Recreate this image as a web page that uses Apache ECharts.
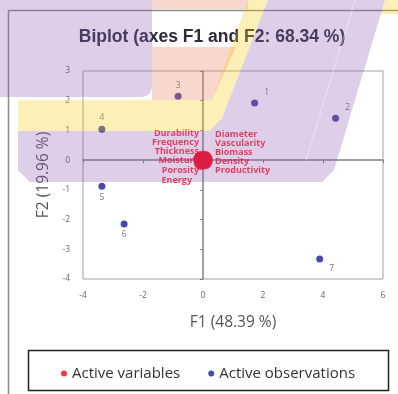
<!DOCTYPE html>
<html><head><meta charset="utf-8">
<script src="https://cdn.jsdelivr.net/npm/echarts@6/dist/echarts.min.js"></script>
<style>html,body{margin:0;padding:0;background:#fff}#c{width:398px;height:394px}</style>
</head><body><div id="c"></div>
<script>
// ---- data ----
const xTicks = [-4, -2, 0, 2, 4, 6];
const yTicks = [-4, -3, -2, -1, 0, 1, 2, 3];
const obsNames = ['1', '2', '3', '4', '5', '6', '7'];
const obsF1 = [1.72, 4.42, -0.83, -3.37, -3.37, -2.63, 3.89];
const obsF2 = [1.92, 1.41, 2.15, 1.04, -0.88, -2.15, -3.33];
const varNames = ['Durability', 'Frequency', 'Thickness', 'Moisture', 'Porosity', 'Energy',
                  'Diameter', 'Vascularity', 'Biomass', 'Density', 'Productivity'];
const varF1 = [-0.05, -0.08, -0.10, -0.06, -0.04, -0.07, 0.06, 0.08, 0.10, 0.05, 0.07];
const varF2 = [0.08, 0.05, 0.02, -0.03, -0.06, -0.10, 0.08, 0.04, 0.00, -0.04, -0.08];

// ---- label layout (style only) ----
const obsLabelOffset = [[12,-11],[12,-11],[0,-11],[0,-12],[0,11],[0,11],[12,9]];
const varLabelSide = ['right','right','right','right','right','right','left','left','left','left','left'];
const varLabelAnchor = [[199,133],[199,142],[199,151],[199,160],[199,170],[192,180],
                        [215,134],[215,143],[215,152],[215,161],[215,170]];

const chart = echarts.init(document.getElementById('c'));
const FONT = "'Open Sans', 'Liberation Sans', sans-serif";
const purple = 'rgba(145,92,178,0.3)';
const yellow = 'rgba(245,205,22,0.3)';
const pink = 'rgba(231,122,88,0.3)';

function buildVarData(offsets) {
  return varNames.map((n, i) => ({
    name: n, value: [varF1[i], varF2[i]],
    label: { show: true, position: 'inside', align: varLabelSide[i], verticalAlign: 'middle',
             formatter: '{b}', offset: offsets ? offsets[i] : [0, 0] }
  }));
}
const obsData = obsNames.map((n, i) => ({
  name: n, value: [obsF1[i], obsF2[i]],
  label: { show: true, position: 'inside', formatter: '{b}', offset: obsLabelOffset[i] }
}));

const option = {
  animation: false,
  backgroundColor: '#fff',
  title: {
    text: 'Biplot (axes F1 and F2: 68.34 %)', left: 207, textAlign: 'center', top: 23,
    textStyle: { fontFamily: "'Liberation Sans', Arial, sans-serif", fontSize: 17.5, fontWeight: 'bold', color: '#2b2b3b' }
  },
  legend: {
    top: 361, left: 56, itemGap: 28, icon: 'circle', itemWidth: 6, itemHeight: 6,
    textStyle: { fontFamily: FONT, fontSize: 15, color: '#333' },
    data: ['Active variables', 'Active observations']
  },
  grid: { left: 83, right: 15, top: 71, bottom: 115, show: true, borderColor: '#a0a0a0', borderWidth: 1 },
  xAxis: [
    { type: 'value', min: -4, max: 6, interval: 2,
      axisLine: { show: false }, axisTick: { show: false }, splitLine: { show: false },
      axisLabel: { fontSize: 8.5, color: '#666', margin: 12, fontFamily: FONT },
      name: 'F1 (48.39 %)', nameLocation: 'middle', nameGap: 36,
      nameTextStyle: { fontFamily: FONT, fontSize: 15.5, color: '#555' } },
    { type: 'value', min: -4, max: 6, interval: 2, position: 'bottom',
      axisLine: { show: true, onZero: true, onZeroAxisIndex: 0, lineStyle: { color: '#808080', width: 1.5 } },
      axisTick: { show: true, length: 3, lineStyle: { color: '#808080' } },
      axisLabel: { show: false }, splitLine: { show: false } }
  ],
  yAxis: [
    { type: 'value', min: -4, max: 3, interval: 1,
      axisLine: { show: false }, axisTick: { show: false }, splitLine: { show: false },
      axisLabel: { fontSize: 8.5, color: '#666', margin: 13, fontFamily: FONT },
      name: 'F2 (19.96 %)', nameLocation: 'middle', nameGap: 30,
      nameTextStyle: { fontFamily: FONT, fontSize: 15.5, color: '#555' } },
    { type: 'value', min: -4, max: 3, interval: 1, position: 'left',
      axisLine: { show: true, onZero: true, onZeroAxisIndex: 0, lineStyle: { color: '#808080', width: 1.5 } },
      axisTick: { show: true, length: 3, lineStyle: { color: '#808080' } },
      axisLabel: { show: false }, splitLine: { show: false } }
  ],
  series: [
    { name: 'Active variables', type: 'scatter', xAxisIndex: 0, yAxisIndex: 0,
      symbolSize: 14, itemStyle: { color: '#ff0012' }, z: 4,
      label: { color: '#ff0012', fontSize: 9, fontFamily: FONT, fontWeight: 'bold' },
      data: buildVarData(null) },
    { name: 'Active observations', type: 'scatter', xAxisIndex: 0, yAxisIndex: 0,
      symbolSize: 7, itemStyle: { color: '#1c1c96' }, z: 3,
      label: { color: '#555', fontSize: 8.5, fontFamily: FONT },
      data: obsData }
  ],
  graphic: [
    { type: 'rect', z: 1, silent: true, shape: { x: 8.5, y: 10.5, width: 400, height: 400 },
      style: { fill: 'none', stroke: '#8c8c8c', lineWidth: 1.5 } },
    { type: 'rect', z: 1, silent: true, shape: { x: 28.5, y: 350.5, width: 360, height: 40 },
      style: { fill: 'none', stroke: '#222', lineWidth: 1.5 } },
    { type: 'rect', z: 100, silent: true, shape: { x: -5, y: -5, width: 157, height: 102, r: [0, 0, 10, 0] },
      style: { fill: purple } },
    { type: 'rect', z: 100, silent: true, shape: { x: 152, y: 0, width: 96, height: 9 }, style: { fill: pink } },
    { type: 'polygon', z: 100, silent: true, shape: { points: [[152,47],[236,47],[212,100],[152,100]] }, style: { fill: pink } },
    { type: 'polygon', z: 100, silent: true,
      shape: { points: [[18,100],[212,100],[248,0],[268,0],[222,118],[210,131],[18,131]] }, style: { fill: yellow } },
    { type: 'polygon', z: 100, silent: true,
      shape: { points: [[385,0],[398,0],[398,14],[381,14]] }, style: { fill: yellow } },
    { type: 'polygon', z: 100, silent: true,
      shape: { points: [[268,0],[385,0],[334,170],[322,182],[30,182],[18,170],[18,131],[210,131],[222,118]] },
      style: { fill: purple } },
    { type: 'line', z: 101, silent: true, shape: { x1: 355, y1: 0, x2: 306, y2: 160 },
      style: { stroke: 'rgba(255,255,255,0.3)', lineWidth: 1.5 } }
  ]
};
chart.setOption(option);

// compute label offsets so that text anchors sit at the layout rows
const offs = varNames.map((n, i) => {
  const p = chart.convertToPixel({ xAxisIndex: 0, yAxisIndex: 0 }, [varF1[i], varF2[i]]);
  return [varLabelAnchor[i][0] - p[0], varLabelAnchor[i][1] - p[1]];
});
chart.setOption({ series: [{ data: buildVarData(offs) }, {}] });
</script>
</body></html>
